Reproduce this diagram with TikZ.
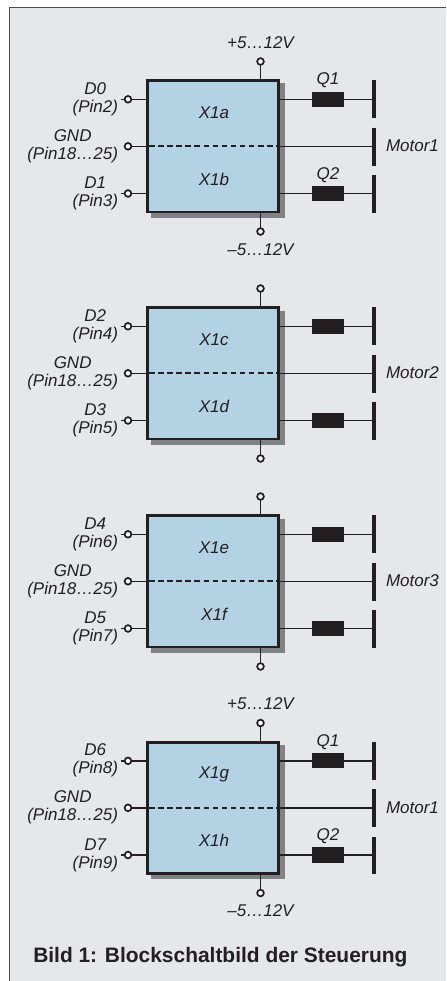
\documentclass[tikz,border=0pt]{standalone}
\usepackage{fontspec}
\setmainfont{Liberation Sans}
\definecolor{bg}{HTML}{E6E7E9}
\definecolor{blockblue}{HTML}{B3D2E4}
\definecolor{ink}{HTML}{231F20}
\definecolor{shadowgrey}{HTML}{808285}
\definecolor{framegrey}{HTML}{4A4A4C}
\tikzset{
  lab/.style={text=ink,font=\fontsize{12.75}{13.5}\selectfont\itshape,inner sep=0pt,outer sep=0pt},
  pinlab/.style={lab,align=center,anchor=east},
  blockbox/.style={draw=ink,fill=blockblue,line width=2pt,minimum width=98.4pt,minimum height=98.4pt,inner sep=0pt,outer sep=0pt},
  shadowbox/.style={fill=shadowgrey,minimum width=100.5pt,minimum height=100.5pt,inner sep=0pt,outer sep=0pt},
  term/.style={circle,draw=ink,fill=white,line width=1.3pt,minimum size=5pt,inner sep=0pt,outer sep=0pt},
  qbox/.style={fill=ink,minimum width=24pt,minimum height=11.4pt,inner sep=0pt,outer sep=0pt},
  wire/.style={draw=ink,line width=1.1pt},
  dashwire/.style={draw=ink,line width=1.5pt,dash pattern=on 4.2pt off 2.6pt},
  busbar/.style={draw=ink,line width=2.6pt}
}
% id, y offset, top data, top pin, bottom data, bottom pin, top name, bottom name, motor
\newcommand{\driverunit}[9]{%
\begin{scope}[shift={(0,#2)}]
  \node[shadowbox] (#1shadow) at (218,150.5) {};
  \node[blockbox] (#1box) at (213.2,146.3) {};
  \node[lab] (#1nt) at (214,113) {#7};
  \node[lab] (#1nb) at (214,179) {#8};
  \node[term] (#1vp) at (260.5,61.5) {};
  \node[term] (#1vm) at (260.5,231.5) {};
  \draw[wire] (#1vp) -- (#1vp |- #1box.north);
  \draw[wire] (#1vm) -- (#1vm |- #1box.south);
  \node[term] (#1a) at (128,99.3) {};
  \node[term] (#1g) at (128,146.3) {};
  \node[term] (#1b) at (128,193.5) {};
  \coordinate (#1sa) at (120.5,99.3);
  \coordinate (#1sb) at (120.5,193.5);
  \draw[wire] (#1a) -- (#1sa);
  \draw[wire] (#1b) -- (#1sb);
  \node[pinlab] (#1la) at (118,99.3) {#3\\#4};
  \node[pinlab] (#1lg) at (118,146.3) {GND\\(Pin18…25)};
  \node[pinlab] (#1lb) at (118,193.5) {#5\\#6};
  \foreach \p in {a,g,b} \draw[wire] (#1\p) -- (#1\p -| #1box.west);
  \draw[dashwire] (#1g -| #1box.west) ++(1.5,0) -- (#1g -| #1box.east);
  \node[qbox] (#1qa) at (328,99.3) {};
  \node[qbox] (#1qb) at (328,193.5) {};
  \coordinate (#1ba1) at (374,80);
  \coordinate (#1ba2) at (374,118);
  \coordinate (#1bg1) at (374,127.5);
  \coordinate (#1bg2) at (374,165.5);
  \coordinate (#1bb1) at (374,175);
  \coordinate (#1bb2) at (374,212.5);
  \draw[busbar] (#1ba1) -- (#1ba2);
  \draw[busbar] (#1bg1) -- (#1bg2);
  \draw[busbar] (#1bb1) -- (#1bb2);
  \draw[wire] (#1qa -| #1box.east) -- (#1qa.west);
  \draw[wire] (#1qa.east) -- (#1qa -| #1ba1);
  \draw[wire] (#1qb -| #1box.east) -- (#1qb.west);
  \draw[wire] (#1qb.east) -- (#1qb -| #1ba1);
  \draw[wire] (#1g -| #1box.east) -- (#1g -| #1ba1);
  \node[lab,anchor=west] (#1m) at (386,146) {#9};
\end{scope}}
\begin{document}
\begin{tikzpicture}[x=0.75pt,y=-0.75pt]
\useasboundingbox (0,0) rectangle (446,981);
\fill[white] (0,0) rectangle (446,981);
\fill[bg] (9.5,8) rectangle (446,981);
\draw[framegrey,line width=0.75pt] (9.5,981) -- (9.5,8) -- (446,8);
\driverunit{a}{0}{D0}{(Pin2)}{D1}{(Pin3)}{X1a}{X1b}{Motor1}
\driverunit{c}{227}{D2}{(Pin4)}{D3}{(Pin5)}{X1c}{X1d}{Motor2}
\driverunit{e}{435}{D4}{(Pin6)}{D5}{(Pin7)}{X1e}{X1f}{Motor3}
\driverunit{g}{661.5}{D6}{(Pin8)}{D7}{(Pin9)}{X1g}{X1h}{Motor1}
\foreach \u in {a,g}{
  \node[lab] (\u vpl) at ([yshift=14.5pt]\u vp.center) {+5…12V};
  \node[lab] (\u vml) at ([yshift=-13.5pt]\u vm.center) {–5…12V};
  \node[lab] (\u q1) at ([yshift=14pt]\u qa.center) {Q1};
  \node[lab] (\u q2) at ([yshift=14pt]\u qb.center) {Q2};
}
\node[anchor=west,text=ink,inner sep=0pt,font=\fontsize{15.7}{18}\selectfont\bfseries] (cap) at (33,957) {Bild 1: Blockschaltbild der Steuerung};
\end{tikzpicture}
\end{document}
